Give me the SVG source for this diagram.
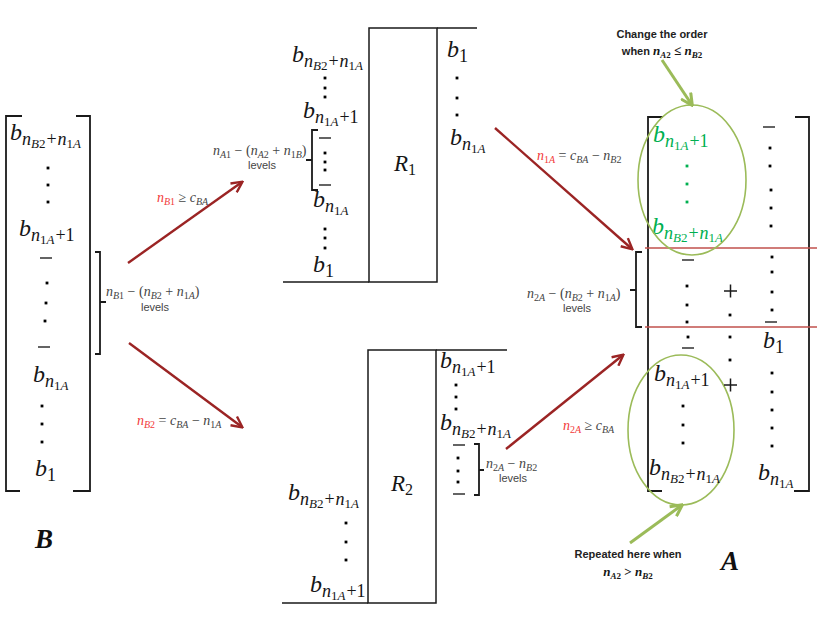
<svg xmlns="http://www.w3.org/2000/svg" xmlns:xlink="http://www.w3.org/1999/xlink" width="817" height="632" viewBox="0 0 817 632">
<style>
.t{font-family:"Liberation Serif",serif;font-style:italic;fill:#161616}
.b{font-size:24px}
.s{font-size:18px}
.ss{font-size:13px}
.u{font-style:normal}
.f{font-size:14px;fill:#444}
.fs{font-size:10px}
.lv{font-family:"Liberation Sans",sans-serif;font-size:11px;fill:#444;text-anchor:middle}
.red{fill:#f23a3a}
.g{fill:#00b050}
.br{fill:none;stroke:#1a1a1a;stroke-width:1.8}
.box{fill:#fff;stroke:#1a1a1a;stroke-width:1.5}
.ln{fill:none;stroke:#1a1a1a;stroke-width:1.5}
.dash{stroke:#222;stroke-width:1.4}
.arr{fill:none;stroke:#9b2424;stroke-width:2.4;marker-end:url(#ar)}
.garr{fill:none;stroke:#9bbb59;stroke-width:3;marker-end:url(#ag)}
.ell{fill:none;stroke:#9bbb59;stroke-width:1.6}
.rl{stroke:#c0504d;stroke-width:1.6}
.note{font-family:"Liberation Sans",sans-serif;font-weight:bold;font-size:11px;fill:#222;text-anchor:middle}
.big{font-family:"Liberation Serif",serif;font-style:italic;font-weight:bold;font-size:27px;fill:#111}
</style>
<defs>
<rect id="d" x="-1.4" y="-1.4" width="2.8" height="2.8"/>
<marker id="ar" viewBox="0 0 12 12" refX="10.5" refY="6" markerWidth="13" markerHeight="13" markerUnits="userSpaceOnUse" orient="auto"><path d="M1,1 L11,6 L1,11" fill="none" stroke="#9b2424" stroke-width="2.2"/></marker>
<marker id="ag" viewBox="0 0 12 12" refX="10.5" refY="6" markerWidth="14" markerHeight="14" markerUnits="userSpaceOnUse" orient="auto"><path d="M1,1 L11,6 L1,11" fill="none" stroke="#9bbb59" stroke-width="2.6"/></marker>
</defs>
<rect width="817" height="632" fill="#fff"/>

<!-- Matrix B -->
<g id="matrixB">
<path class="br" d="M22,116 H6 V491 H20"/>
<path class="br" d="M76,116 H90 V491 H73"/>
<text class="t b" x="10" y="140">b<tspan class="s" dy="5">n</tspan><tspan class="ss" dy="3">B</tspan><tspan class="ss u">2</tspan><tspan class="s u" dy="-3" dx="1">+</tspan><tspan class="s" dx="1">n</tspan><tspan class="ss u" dy="3">1</tspan><tspan class="ss">A</tspan></text>
<use href="#d" x="48" y="168"/><use href="#d" x="48" y="185"/><use href="#d" x="48" y="202"/>
<text class="t b" x="19" y="236">b<tspan class="s" dy="5">n</tspan><tspan class="ss u" dy="3">1</tspan><tspan class="ss">A</tspan><tspan class="s u" dy="-3" dx="1">+1</tspan></text>
<line class="dash" x1="40" y1="258" x2="52" y2="258"/>
<use href="#d" x="47" y="283"/><use href="#d" x="46" y="303"/><use href="#d" x="45" y="321"/>
<line class="dash" x1="38" y1="347" x2="50" y2="347"/>
<text class="t b" x="33" y="382">b<tspan class="s" dy="5">n</tspan><tspan class="ss u" dy="3">1</tspan><tspan class="ss">A</tspan></text>
<use href="#d" x="42" y="406"/><use href="#d" x="42" y="424"/><use href="#d" x="42" y="442"/>
<text class="t b" x="35" y="476">b<tspan class="s u" dy="5">1</tspan></text>
<path class="br" d="M95,252 H100 V354 H95 M100,302 H106" stroke-width="1.5"/>
<text class="t f" x="106" y="296">n<tspan class="fs" dy="3">B</tspan><tspan class="fs u">1</tspan><tspan class="u" dy="-3"> − (</tspan>n<tspan class="fs" dy="3">B</tspan><tspan class="fs u">2</tspan><tspan class="u" dy="-3"> + </tspan>n<tspan class="fs u" dy="3">1</tspan><tspan class="fs">A</tspan><tspan class="u" dy="-3">)</tspan></text>
<text class="lv" x="155" y="311">levels</text>
<text class="big" x="35" y="548">B</text>
</g>

<!-- R1 -->
<g id="R1">
<rect class="box" x="369" y="28" width="68" height="254"/>
<path class="ln" d="M437,28 H477 M283,282 H369"/>
<text class="t" x="394" y="171" font-size="23">R<tspan class="u" font-size="16" dy="4">1</tspan></text>
<text class="t b" x="292" y="62">b<tspan class="s" dy="5">n</tspan><tspan class="ss" dy="3">B</tspan><tspan class="ss u">2</tspan><tspan class="s u" dy="-3" dx="1">+</tspan><tspan class="s" dx="1">n</tspan><tspan class="ss u" dy="3">1</tspan><tspan class="ss">A</tspan></text>
<use href="#d" x="325" y="78"/><use href="#d" x="325" y="88"/><use href="#d" x="325" y="97"/>
<text class="t b" x="303" y="118">b<tspan class="s" dy="5">n</tspan><tspan class="ss u" dy="3">1</tspan><tspan class="ss">A</tspan><tspan class="s u" dy="-3" dx="1">+1</tspan></text>
<path class="br" d="M318,130 H312 V190 H318 M312,160 H306" stroke-width="1.5"/>
<line class="dash" x1="319" y1="138" x2="331" y2="138"/>
<use href="#d" x="325" y="153"/><use href="#d" x="325" y="162"/><use href="#d" x="325" y="170"/>
<line class="dash" x1="319" y1="185" x2="331" y2="185"/>
<text class="t f" x="213" y="155">n<tspan class="fs" dy="3">A</tspan><tspan class="fs u">1</tspan><tspan class="u" dy="-3"> − (</tspan>n<tspan class="fs" dy="3">A</tspan><tspan class="fs u">2</tspan><tspan class="u" dy="-3"> + </tspan>n<tspan class="fs u" dy="3">1</tspan><tspan class="fs">B</tspan><tspan class="u" dy="-3">)</tspan></text>
<text class="lv" x="262" y="169">levels</text>
<text class="t b" x="313" y="207">b<tspan class="s" dy="5">n</tspan><tspan class="ss u" dy="3">1</tspan><tspan class="ss">A</tspan></text>
<use href="#d" x="325" y="229"/><use href="#d" x="325" y="238"/><use href="#d" x="325" y="248"/>
<text class="t b" x="313" y="272">b<tspan class="s u" dy="5">1</tspan></text>
<text class="t b" x="447" y="57">b<tspan class="s u" dy="5">1</tspan></text>
<use href="#d" x="457" y="78"/><use href="#d" x="457" y="98"/><use href="#d" x="457" y="115"/>
<text class="t b" x="450" y="145">b<tspan class="s" dy="5">n</tspan><tspan class="ss u" dy="3">1</tspan><tspan class="ss">A</tspan></text>
</g>

<!-- R2 -->
<g id="R2">
<rect class="box" x="368" y="350" width="68" height="253"/>
<path class="ln" d="M436,350 H507 M282,603 H368"/>
<text class="t" x="391" y="491" font-size="23">R<tspan class="u" font-size="16" dy="4">2</tspan></text>
<text class="t b" x="440" y="368">b<tspan class="s" dy="5">n</tspan><tspan class="ss u" dy="3">1</tspan><tspan class="ss">A</tspan><tspan class="s u" dy="-3" dx="1">+1</tspan></text>
<use href="#d" x="456" y="385"/><use href="#d" x="456" y="397"/><use href="#d" x="456" y="409"/>
<text class="t b" x="440" y="430">b<tspan class="s" dy="5">n</tspan><tspan class="ss" dy="3">B</tspan><tspan class="ss u">2</tspan><tspan class="s u" dy="-3" dx="1">+</tspan><tspan class="s" dx="1">n</tspan><tspan class="ss u" dy="3">1</tspan><tspan class="ss">A</tspan></text>
<line class="dash" x1="453" y1="445" x2="465" y2="445"/>
<use href="#d" x="458" y="458"/><use href="#d" x="458" y="471"/><use href="#d" x="458" y="482"/>
<line class="dash" x1="453" y1="494" x2="465" y2="494"/>
<path class="br" d="M474,444 H479 V495 H474 M479,470 H484" stroke-width="1.5"/>
<text class="t f" x="486" y="468">n<tspan class="fs u" dy="3">2</tspan><tspan class="fs">A</tspan><tspan class="u" dy="-3"> − </tspan>n<tspan class="fs" dy="3">B</tspan><tspan class="fs u">2</tspan></text>
<text class="lv" x="513" y="482">levels</text>
<text class="t b" x="288" y="500">b<tspan class="s" dy="5">n</tspan><tspan class="ss" dy="3">B</tspan><tspan class="ss u">2</tspan><tspan class="s u" dy="-3" dx="1">+</tspan><tspan class="s" dx="1">n</tspan><tspan class="ss u" dy="3">1</tspan><tspan class="ss">A</tspan></text>
<use href="#d" x="346" y="523"/><use href="#d" x="346" y="542"/><use href="#d" x="346" y="560"/>
<text class="t b" x="310" y="592">b<tspan class="s" dy="5">n</tspan><tspan class="ss u" dy="3">1</tspan><tspan class="ss">A</tspan><tspan class="s u" dy="-3" dx="1">+1</tspan></text>
</g>

<!-- Matrix A -->
<g id="matrixA">
<path class="br" d="M663,117 H648 V491 H662"/>
<path class="br" d="M795,117 H809 V491 H794"/>
<line class="rl" x1="645" y1="248" x2="817" y2="248"/>
<line class="rl" x1="645" y1="327" x2="817" y2="327"/>
<path class="br" d="M642,252 H636 V327 H642 M636,290 H630" stroke-width="1.5"/>
<text class="t f" x="527" y="298">n<tspan class="fs u" dy="3">2</tspan><tspan class="fs">A</tspan><tspan class="u" dy="-3"> − (</tspan>n<tspan class="fs" dy="3">B</tspan><tspan class="fs u">2</tspan><tspan class="u" dy="-3"> + </tspan>n<tspan class="fs u" dy="3">1</tspan><tspan class="fs">A</tspan><tspan class="u" dy="-3">)</tspan></text>
<text class="lv" x="577" y="312">levels</text>
<text class="t b g" x="653" y="142">b<tspan class="s" dy="5">n</tspan><tspan class="ss u" dy="3">1</tspan><tspan class="ss">A</tspan><tspan class="s u" dy="-3" dx="1">+1</tspan></text>
<use class="g" href="#d" x="687" y="166"/><use class="g" href="#d" x="687" y="184"/><use class="g" href="#d" x="687" y="202"/>
<text class="t b g" x="652" y="234">b<tspan class="s" dy="5">n</tspan><tspan class="ss" dy="3">B</tspan><tspan class="ss u">2</tspan><tspan class="s u" dy="-3" dx="1">+</tspan><tspan class="s" dx="1">n</tspan><tspan class="ss u" dy="3">1</tspan><tspan class="ss">A</tspan></text>
<ellipse class="ell" cx="692" cy="180" rx="54" ry="75"/>
<ellipse class="ell" cx="681" cy="430" rx="53" ry="75"/>
<line class="dash" x1="763" y1="127" x2="775" y2="127"/>
<use href="#d" x="770" y="148"/><use href="#d" x="770" y="166"/><use href="#d" x="771" y="190"/><use href="#d" x="771" y="208"/><use href="#d" x="771" y="226"/>
<use href="#d" x="772" y="257"/><use href="#d" x="772" y="272"/><use href="#d" x="772" y="292"/><use href="#d" x="772" y="310"/>
<line class="dash" x1="765" y1="322" x2="777" y2="322"/>
<text class="t b" x="763" y="348">b<tspan class="s u" dy="5">1</tspan></text>
<use href="#d" x="772" y="373"/><use href="#d" x="772" y="392"/><use href="#d" x="772" y="410"/><use href="#d" x="772" y="428"/><use href="#d" x="772" y="446"/>
<text class="t b" x="758" y="480">b<tspan class="s" dy="5">n</tspan><tspan class="ss u" dy="3">1</tspan><tspan class="ss">A</tspan></text>
<line class="dash" x1="682" y1="260" x2="694" y2="260"/>
<use href="#d" x="687" y="286"/><use href="#d" x="687" y="305"/><use href="#d" x="687" y="322"/><use href="#d" x="688" y="337"/>
<line class="dash" x1="682" y1="348" x2="694" y2="348"/>
<text class="t b" x="654" y="381">b<tspan class="s" dy="5">n</tspan><tspan class="ss u" dy="3">1</tspan><tspan class="ss">A</tspan><tspan class="s u" dy="-3" dx="1">+1</tspan></text>
<use href="#d" x="683" y="406"/><use href="#d" x="683" y="425"/><use href="#d" x="683" y="443"/>
<text class="t b" x="649" y="475">b<tspan class="s" dy="5">n</tspan><tspan class="ss" dy="3">B</tspan><tspan class="ss u">2</tspan><tspan class="s u" dy="-3" dx="1">+</tspan><tspan class="s" dx="1">n</tspan><tspan class="ss u" dy="3">1</tspan><tspan class="ss">A</tspan></text>
<path class="ln" d="M724,291 H737 M730.5,284.5 V297.5 M724,385 H737 M730.5,378.5 V391.5" stroke-width="1.3"/>
<use href="#d" x="730" y="315"/><use href="#d" x="730" y="337"/><use href="#d" x="730" y="360"/>
<text class="note" x="662" y="38">Change the order</text>
<text class="note" x="662" y="55">when <tspan class="t" font-size="13" font-weight="bold" fill="#222">n<tspan font-size="9" dy="3">A</tspan><tspan class="u" font-size="9">2</tspan><tspan class="u" dy="-3"> ≤ </tspan>n<tspan font-size="9" dy="3">B</tspan><tspan class="u" font-size="9">2</tspan></tspan></text>
<text class="note" x="628" y="558">Repeated here when</text>
<text class="note" x="628" y="576"><tspan class="t" font-size="13" font-weight="bold" fill="#222">n<tspan font-size="9" dy="3">A</tspan><tspan class="u" font-size="9">2</tspan><tspan class="u" dy="-3"> &gt; </tspan>n<tspan font-size="9" dy="3">B</tspan><tspan class="u" font-size="9">2</tspan></tspan></text>
<text class="big" x="721" y="570" font-size="28">A</text>
</g>

<!-- Connectors -->
<g id="connectors">
<line class="arr" x1="128" y1="263" x2="242" y2="182"/>
<line class="arr" x1="129" y1="343" x2="242" y2="427"/>
<line class="arr" x1="495" y1="128" x2="632" y2="249"/>
<line class="arr" x1="506" y1="449" x2="623" y2="355"/>
<line class="garr" x1="662" y1="60" x2="692" y2="105"/>
<line class="garr" x1="630" y1="543" x2="682" y2="505"/>
<text class="t f" x="157" y="202"><tspan class="red">n<tspan class="fs" dy="3">B</tspan><tspan class="fs u">1</tspan></tspan><tspan class="u" dy="-3"> ≥ </tspan>c<tspan class="fs" dy="3">BA</tspan></text>
<text class="t f" x="137" y="425"><tspan class="red">n<tspan class="fs" dy="3">B</tspan><tspan class="fs u">2</tspan></tspan><tspan class="u" dy="-3"> = </tspan>c<tspan class="fs" dy="3">BA</tspan><tspan class="u" dy="-3"> − </tspan>n<tspan class="fs u" dy="3">1</tspan><tspan class="fs">A</tspan></text>
<text class="t f" x="537" y="160"><tspan class="red">n<tspan class="fs u" dy="3">1</tspan><tspan class="fs">A</tspan></tspan><tspan class="u" dy="-3"> = </tspan>c<tspan class="fs" dy="3">BA</tspan><tspan class="u" dy="-3"> − </tspan>n<tspan class="fs" dy="3">B</tspan><tspan class="fs u">2</tspan></text>
<text class="t f" x="563" y="430"><tspan class="red">n<tspan class="fs u" dy="3">2</tspan><tspan class="fs">A</tspan></tspan><tspan class="u" dy="-3"> ≥ </tspan>c<tspan class="fs" dy="3">BA</tspan></text>
</g>
</svg>
